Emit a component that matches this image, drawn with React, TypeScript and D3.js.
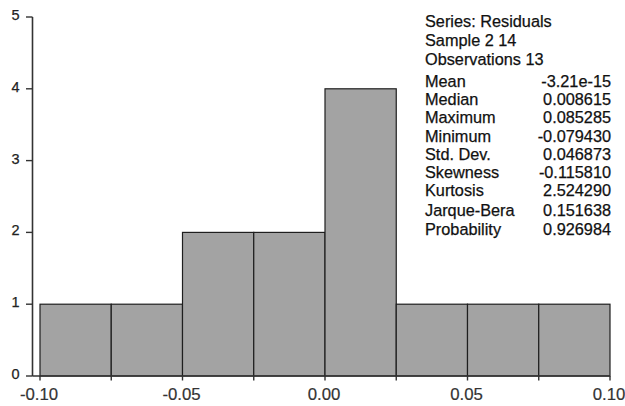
import React from "react";
import * as d3 from "d3";

const binStarts = [-0.1, -0.075, -0.05, -0.025, 0.0, 0.025, 0.05, 0.075];
const binWidth = 0.025;
const counts = [1, 1, 2, 2, 4, 1, 1, 1];
const xTickLabels = ["-0.10", "-0.05", "0.00", "0.05", "0.10"];
const xTickValues = [-0.1, -0.05, 0.0, 0.05, 0.1];
const xMinorTicks = [-0.1, -0.075, -0.05, -0.025, 0.0, 0.025, 0.05, 0.075, 0.1];
const yTicks = [0, 1, 2, 3, 4, 5];
const headerLines = ["Series: Residuals", "Sample 2 14", "Observations 13"];
const statNames = ["Mean", "Median", "Maximum", "Minimum", "Std. Dev.", "Skewness", "Kurtosis", "Jarque-Bera", "Probability"];
const statValues = ["-3.21e-15", "0.008615", "0.085285", "-0.079430", "0.046873", "-0.115810", "2.524290", "0.151638", "0.926984"];

export default function App() {
  const W = 625, H = 406;
  const x = d3.scaleLinear().domain([-0.1, 0.1]).range([40, 610]);
  const y = d3.scaleLinear().domain([0, 5]).range([376, 17]);
  const axisX = 32.5;
  const font = "'Liberation Sans', Arial, sans-serif";
  const headerBaselines = [27, 45.5, 65];
  const statBaselines = [87, 105, 123, 142, 159.5, 177.5, 196, 216, 235];
  const fs = 16.3;
  return (
    <svg width={W} height={H} style={{ position: "absolute", left: 0, top: 0, background: "#fff" }} fontFamily={font}>
      <rect width={W} height={H} fill="#fff" />
      {binStarts.map((b, i) => (
        <rect key={i} x={x(b)} y={y(counts[i])} width={x(b + binWidth) - x(b)} height={y(0) - y(counts[i])}
          fill="#a3a3a3" stroke="#1e1e1e" strokeWidth={1.2} />
      ))}
      {/* y axis */}
      <line x1={axisX} x2={axisX} y1={y(5)} y2={y(0)} stroke="#333" strokeWidth={1.6} />
      {yTicks.map((t) => (
        <g key={t}>
          <line x1={axisX - 6.5} x2={axisX} y1={y(t)} y2={y(t)} stroke="#333" strokeWidth={1.4} />
          <text x={19.5} y={y(t) + 3} textAnchor="end" fontSize={14.5} fill="#222" stroke="#222" strokeWidth={0.25}>{t}</text>
        </g>
      ))}
      {/* x axis */}
      <line x1={axisX} x2={x(0.1)} y1={y(0)} y2={y(0)} stroke="#333" strokeWidth={1.6} />
      {xMinorTicks.map((t, i) => (
        <line key={i} x1={x(t)} x2={x(t)} y1={y(0)} y2={y(0) + 4.5} stroke="#333" strokeWidth={1.4} />
      ))}
      {xTickValues.map((t, i) => (
        <text key={i} x={x(t) - 1} y={400} textAnchor="middle" fontSize={16.8} fill="#333" stroke="#333" strokeWidth={0.2}>{xTickLabels[i]}</text>
      ))}
      {/* stats */}
      <g fill="#111" stroke="#111" strokeWidth={0.25} fontSize={fs}>
        {headerLines.map((s, i) => (
          <text key={s} x={425} y={headerBaselines[i]}>{s}</text>
        ))}
        {statNames.map((s, i) => (
          <g key={s}>
            <text x={425} y={statBaselines[i]}>{s}</text>
            <text x={611} y={statBaselines[i]} textAnchor="end">{statValues[i]}</text>
          </g>
        ))}
      </g>
    </svg>
  );
}
